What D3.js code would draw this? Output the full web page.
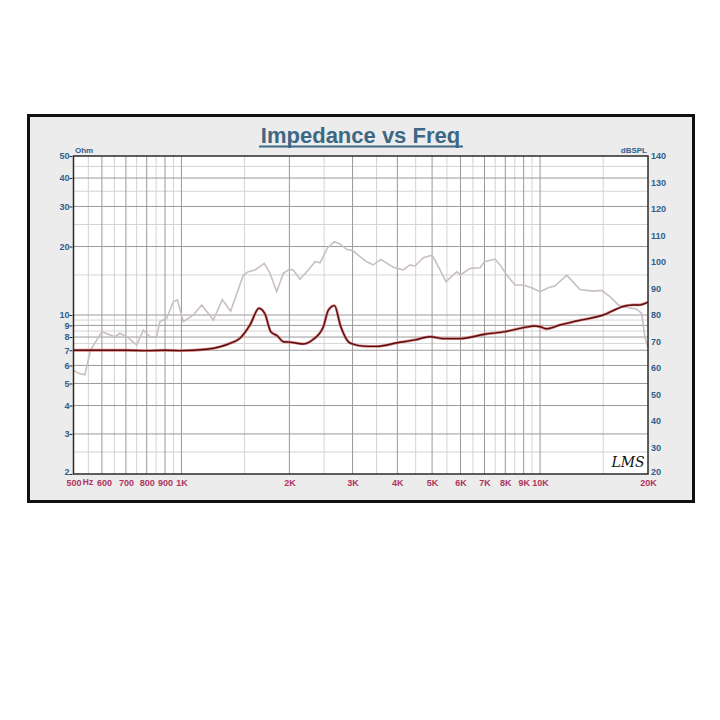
<!DOCTYPE html>
<html>
<head>
<meta charset="utf-8">
<script src="https://cdn.jsdelivr.net/npm/d3@7"></script>
<style>
  body { margin: 0; background: #fff; }
  svg { display: block; }
</style>
</head>
<body>
<svg id="chart" width="720" height="720"></svg>
<script>
// impedance (Ohm)
var impFreq = [500, 600, 700, 800, 900, 1000, 1176, 1281, 1366, 1456, 1553, 1645, 1710, 1774, 1850, 1923, 2000, 2187, 2332, 2487, 2568, 2670, 2781, 2920, 3000, 3215, 3500, 4000, 4480, 4935, 5375, 6000, 7000, 8000, 9000, 9680, 10000, 10400, 11370, 12650, 15000, 17060, 18100, 18900, 20000];
var impOhm  = [7.0, 7.0, 7.0, 6.97, 7.0, 6.97, 7.07, 7.25, 7.51, 7.9, 9.04, 10.7, 10.1, 8.45, 8.1, 7.63, 7.6, 7.46, 7.82, 8.88, 10.5, 11.0, 8.9, 7.63, 7.46, 7.3, 7.28, 7.55, 7.77, 8.03, 7.87, 7.87, 8.23, 8.45, 8.8, 8.95, 8.88, 8.7, 9.04, 9.41, 10.0, 10.9, 11.07, 11.07, 11.4];

// SPL (dBSPL)
var splFreq = [500, 516, 538, 558, 600, 652, 674, 704, 750, 783, 817, 853, 871, 909, 949, 974, 1012, 1079, 1139, 1227, 1300, 1371, 1488, 1536, 1604, 1702, 1766, 1843, 1923, 2000, 2050, 2141, 2258, 2358, 2435, 2552, 2670, 2768, 2888, 3000, 3148, 3286, 3428, 3594, 3899, 4000, 4157, 4338, 4480, 4726, 5000, 5236, 5468, 5856, 6000, 6378, 6802, 7000, 7490, 7733, 8072, 8514, 8983, 9477, 10000, 10545, 11000, 11865, 12927, 14080, 14860, 15670, 16525, 17450, 18600, 19200, 19600, 20000];
var splDb   = [59.2, 58.0, 57.4, 66.8, 73.7, 71.8, 73.1, 71.8, 68.7, 74.3, 71.8, 71.8, 77.5, 78.7, 85.0, 85.7, 77.5, 80.0, 83.8, 78.1, 85.8, 81.4, 95.1, 96.3, 97.0, 99.5, 95.7, 88.8, 95.7, 97.2, 97.0, 93.5, 97.0, 100.1, 99.7, 105.2, 107.7, 106.8, 104.8, 104.3, 102.0, 100.1, 98.9, 101.0, 98.0, 97.6, 97.0, 98.9, 98.5, 101.6, 102.6, 97.6, 92.6, 96.3, 95.1, 97.6, 97.8, 100.1, 101.1, 98.9, 95.1, 91.3, 91.3, 90.3, 88.8, 90.3, 90.9, 95.0, 89.6, 89.0, 89.3, 86.9, 83.8, 82.9, 82.2, 80.6, 71.8, 67.4];

var xTicks = [500, 600, 700, 800, 900, 1000, 2000, 3000, 4000, 5000, 6000, 7000, 8000, 9000, 10000, 20000];
var xTickLabels = ["500", "600", "700", "800", "900", "1K", "2K", "3K", "4K", "5K", "6K", "7K", "8K", "9K", "10K", "20K"];
var xMinor = [550, 650, 750, 850, 950, 1500, 2500, 3500, 4500, 5500, 6500, 7500, 8500, 9500, 15000];
var ohmTicks = [2, 3, 4, 5, 6, 7, 8, 9, 10, 20, 30, 40, 50];
var ohmMinor = [2.5, 7.5, 8.5, 9.5, 15, 25, 35, 45];
var dbTicks = [20, 30, 40, 50, 60, 70, 80, 90, 100, 110, 120, 130, 140];

var svg = d3.select("#chart");

var pL = 73.5, pR = 648, pT = 156, pB = 474;

var x = d3.scaleLog().domain([500, 20000]).range([pL, pR]);
var yOhm = d3.scaleLog().domain([2, 50]).range([pB, pT]);
var yDb = d3.scaleLinear().domain([20, 140]).range([pB, pT]);

// framed panel
svg.append("rect")
    .attr("x", 28.5).attr("y", 115.5)
    .attr("width", 665).attr("height", 386)
    .attr("fill", "#ececec")
    .attr("stroke", "#111").attr("stroke-width", 3);

svg.append("rect")
    .attr("x", pL).attr("y", pT)
    .attr("width", pR - pL).attr("height", pB - pT)
    .attr("fill", "#fff");

// title
svg.append("text")
    .attr("x", 360.5).attr("y", 143)
    .attr("text-anchor", "middle")
    .attr("font-family", "Liberation Sans, Arial, sans-serif")
    .attr("font-weight", "bold")
    .attr("font-size", 22)
    .attr("fill", "#3d6884")
    .text("Impedance vs Freq");
svg.append("rect")
    .attr("x", 259).attr("y", 145.5)
    .attr("width", 204).attr("height", 2)
    .attr("fill", "#3d6884");

// grid
var grid = svg.append("g");
grid.selectAll(".vminor").data(xMinor).enter().append("line")
    .attr("x1", d => x(d)).attr("x2", d => x(d))
    .attr("y1", pT).attr("y2", pB)
    .attr("stroke", "#d4d4d4").attr("stroke-width", 1);
grid.selectAll(".hminor").data(ohmMinor).enter().append("line")
    .attr("x1", pL).attr("x2", pR)
    .attr("y1", d => yOhm(d)).attr("y2", d => yOhm(d))
    .attr("stroke", "#d4d4d4").attr("stroke-width", 1);
grid.selectAll(".vmajor").data(xTicks.slice(1, -1)).enter().append("line")
    .attr("x1", d => x(d)).attr("x2", d => x(d))
    .attr("y1", pT).attr("y2", pB)
    .attr("stroke", "#9a9a9a").attr("stroke-width", 1);
grid.selectAll(".hmajor").data(ohmTicks.slice(1, -1)).enter().append("line")
    .attr("x1", pL).attr("x2", pR)
    .attr("y1", d => yOhm(d)).attr("y2", d => yOhm(d))
    .attr("stroke", "#9a9a9a").attr("stroke-width", 1);

// curves
var splLine = d3.line()
    .x((d, i) => x(splFreq[i]))
    .y(d => yDb(d));
svg.append("path")
    .attr("d", splLine(splDb))
    .attr("fill", "none")
    .attr("stroke", "#c9bfc0")
    .attr("stroke-width", 1.6);

var impLine = d3.line()
    .x((d, i) => x(impFreq[i]))
    .y(d => yOhm(d))
    .curve(d3.curveMonotoneX);
svg.append("path")
    .attr("d", impLine(impOhm))
    .attr("fill", "none")
    .attr("stroke", "#cf6a6a")
    .attr("stroke-opacity", 0.8)
    .attr("stroke-width", 2.8);
svg.append("path")
    .attr("d", impLine(impOhm))
    .attr("fill", "none")
    .attr("stroke", "#5a0c0c")
    .attr("stroke-width", 1.4);

// plot border
svg.append("rect")
    .attr("x", pL).attr("y", pT)
    .attr("width", pR - pL).attr("height", pB - pT)
    .attr("fill", "none")
    .attr("stroke", "#2a2a2a").attr("stroke-width", 1.5);

// axes (labels only)
var labelFont = "Liberation Sans, Arial, sans-serif";
var yl = svg.append("g")
    .attr("transform", "translate(" + (pL - 1) + ",0)")
    .call(d3.axisLeft(yOhm).tickValues(ohmTicks).tickFormat(d3.format("d")).tickSize(3));
var yr = svg.append("g")
    .attr("transform", "translate(" + (pR + 1) + ",0)")
    .call(d3.axisRight(yDb).tickValues(dbTicks).tickFormat(d3.format("d")).tickSize(0));
var xb = svg.append("g")
    .attr("transform", "translate(0," + pB + ")")
    .call(d3.axisBottom(x).tickValues(xTicks).tickFormat((d, i) => xTickLabels[i]).tickSize(0));

[yl, yr, xb].forEach(function(g) {
  g.select(".domain").remove();
  g.selectAll("text")
      .attr("font-family", labelFont)
      .attr("font-weight", "bold")
      .attr("font-size", 9);
});
yl.selectAll("line").attr("stroke", "#2a2a2a");
yl.selectAll("text").attr("fill", "#2f5f8c").attr("x", -3);
yr.selectAll("text").attr("fill", "#2f5f8c").attr("x", 2);
// lowest labels sit a little higher so they clear the frequency labels
yl.selectAll(".tick").filter(d => d === 2).select("text").attr("dy", "0.05em");
yr.selectAll(".tick").filter(d => d === 20).select("text").attr("dy", "0.05em");
xb.selectAll("text").attr("fill", "#b0345e").attr("dy", "0.85em").attr("y", 4);
xb.selectAll(".tick").filter(d => d === 600).select("text").attr("dx", 2);

svg.append("text")
    .attr("x", 88).attr("y", 485)
    .attr("text-anchor", "middle")
    .attr("font-family", labelFont).attr("font-weight", "bold").attr("font-size", 8.5)
    .attr("fill", "#b0345e")
    .text("Hz");

svg.append("text")
    .attr("x", 75).attr("y", 153)
    .attr("font-family", labelFont).attr("font-weight", "bold").attr("font-size", 8)
    .attr("fill", "#2f5f8c")
    .text("Ohm");
svg.append("text")
    .attr("x", 647).attr("y", 153)
    .attr("text-anchor", "end")
    .attr("font-family", labelFont).attr("font-weight", "bold").attr("font-size", 8)
    .attr("fill", "#2f5f8c")
    .text("dBSPL");

// LMS mark
svg.append("text")
    .attr("x", 628).attr("y", 467)
    .attr("text-anchor", "middle")
    .attr("font-family", "DejaVu Serif, serif")
    .attr("font-style", "italic")
    .attr("font-size", 14)
    .attr("fill", "#111")
    .text("LMS");
</script>
</body>
</html>
